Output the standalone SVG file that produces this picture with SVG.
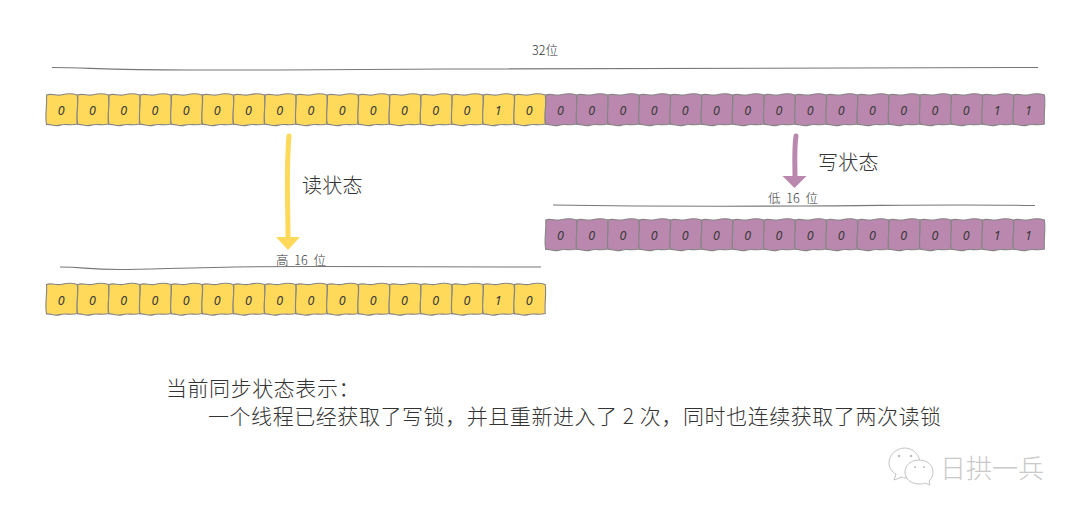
<svg xmlns="http://www.w3.org/2000/svg" width="1080" height="516" viewBox="0 0 1080 516">
<style>
text{font-family:"Noto Sans CJK SC","Noto Sans",sans-serif;fill:#333;font-weight:300}
.d{font-family:"Noto Sans","Liberation Sans",sans-serif;font-size:12.500px;font-style:italic;font-weight:400;fill:#3a3a3a;text-anchor:middle}
.y{fill:#FFD95A}.p{fill:#BA88AE}
.ln{fill:none;stroke:#777;stroke-width:1.100}
.lab{font-size:12.500px;text-anchor:middle;word-spacing:3px}
.big{font-size:20px;letter-spacing:.3px}
.note{font-size:21px;letter-spacing:.56px}
.wm{font-size:26px;fill:#c9c9c9}
.bub{fill:#fff;stroke:#c4c4c4;stroke-width:1}
.eye{fill:#bdbdbd}
</style>
<defs>
<path id="c" stroke="#858585" stroke-width="1.100" d="M0.500 0.500C6 -1.500 10 1.800 16 0.300S26 -1.200 31.200 0.500C32.600 8 30.400 20 31.200 29.500C25 31.500 20 28.800 14 30.600S5 29.200 0.500 30C-1.400 20 1.400 10 0.500 0.500Z"/>
</defs>
<g id="row-top">
<g transform="translate(46,94.500)"><use href="#c" class="y"/><text class="d" x="15.300" y="20.800">0</text></g>
<g transform="translate(77.200,94.500)"><use href="#c" class="y"/><text class="d" x="15.300" y="20.800">0</text></g>
<g transform="translate(108.400,94.500)"><use href="#c" class="y"/><text class="d" x="15.300" y="20.800">0</text></g>
<g transform="translate(139.600,94.500)"><use href="#c" class="y"/><text class="d" x="15.300" y="20.800">0</text></g>
<g transform="translate(170.800,94.500)"><use href="#c" class="y"/><text class="d" x="15.300" y="20.800">0</text></g>
<g transform="translate(202,94.500)"><use href="#c" class="y"/><text class="d" x="15.300" y="20.800">0</text></g>
<g transform="translate(233.200,94.500)"><use href="#c" class="y"/><text class="d" x="15.300" y="20.800">0</text></g>
<g transform="translate(264.400,94.500)"><use href="#c" class="y"/><text class="d" x="15.300" y="20.800">0</text></g>
<g transform="translate(295.600,94.500)"><use href="#c" class="y"/><text class="d" x="15.300" y="20.800">0</text></g>
<g transform="translate(326.800,94.500)"><use href="#c" class="y"/><text class="d" x="15.300" y="20.800">0</text></g>
<g transform="translate(358,94.500)"><use href="#c" class="y"/><text class="d" x="15.300" y="20.800">0</text></g>
<g transform="translate(389.200,94.500)"><use href="#c" class="y"/><text class="d" x="15.300" y="20.800">0</text></g>
<g transform="translate(420.400,94.500)"><use href="#c" class="y"/><text class="d" x="15.300" y="20.800">0</text></g>
<g transform="translate(451.600,94.500)"><use href="#c" class="y"/><text class="d" x="15.300" y="20.800">0</text></g>
<g transform="translate(482.800,94.500)"><use href="#c" class="y"/><text class="d" x="15.300" y="20.800">1</text></g>
<g transform="translate(514,94.500)"><use href="#c" class="y"/><text class="d" x="15.300" y="20.800">0</text></g>
<g transform="translate(545.200,94.500)"><use href="#c" class="p"/><text class="d" x="15.300" y="20.800">0</text></g>
<g transform="translate(576.400,94.500)"><use href="#c" class="p"/><text class="d" x="15.300" y="20.800">0</text></g>
<g transform="translate(607.600,94.500)"><use href="#c" class="p"/><text class="d" x="15.300" y="20.800">0</text></g>
<g transform="translate(638.800,94.500)"><use href="#c" class="p"/><text class="d" x="15.300" y="20.800">0</text></g>
<g transform="translate(670,94.500)"><use href="#c" class="p"/><text class="d" x="15.300" y="20.800">0</text></g>
<g transform="translate(701.200,94.500)"><use href="#c" class="p"/><text class="d" x="15.300" y="20.800">0</text></g>
<g transform="translate(732.400,94.500)"><use href="#c" class="p"/><text class="d" x="15.300" y="20.800">0</text></g>
<g transform="translate(763.600,94.500)"><use href="#c" class="p"/><text class="d" x="15.300" y="20.800">0</text></g>
<g transform="translate(794.800,94.500)"><use href="#c" class="p"/><text class="d" x="15.300" y="20.800">0</text></g>
<g transform="translate(826,94.500)"><use href="#c" class="p"/><text class="d" x="15.300" y="20.800">0</text></g>
<g transform="translate(857.200,94.500)"><use href="#c" class="p"/><text class="d" x="15.300" y="20.800">0</text></g>
<g transform="translate(888.400,94.500)"><use href="#c" class="p"/><text class="d" x="15.300" y="20.800">0</text></g>
<g transform="translate(919.600,94.500)"><use href="#c" class="p"/><text class="d" x="15.300" y="20.800">0</text></g>
<g transform="translate(950.800,94.500)"><use href="#c" class="p"/><text class="d" x="15.300" y="20.800">0</text></g>
<g transform="translate(982,94.500)"><use href="#c" class="p"/><text class="d" x="15.300" y="20.800">1</text></g>
<g transform="translate(1013.200,94.500)"><use href="#c" class="p"/><text class="d" x="15.300" y="20.800">1</text></g>
</g>
<g id="row-high">
<g transform="translate(46,284)"><use href="#c" class="y"/><text class="d" x="15.300" y="20.800">0</text></g>
<g transform="translate(77.200,284)"><use href="#c" class="y"/><text class="d" x="15.300" y="20.800">0</text></g>
<g transform="translate(108.400,284)"><use href="#c" class="y"/><text class="d" x="15.300" y="20.800">0</text></g>
<g transform="translate(139.600,284)"><use href="#c" class="y"/><text class="d" x="15.300" y="20.800">0</text></g>
<g transform="translate(170.800,284)"><use href="#c" class="y"/><text class="d" x="15.300" y="20.800">0</text></g>
<g transform="translate(202,284)"><use href="#c" class="y"/><text class="d" x="15.300" y="20.800">0</text></g>
<g transform="translate(233.200,284)"><use href="#c" class="y"/><text class="d" x="15.300" y="20.800">0</text></g>
<g transform="translate(264.400,284)"><use href="#c" class="y"/><text class="d" x="15.300" y="20.800">0</text></g>
<g transform="translate(295.600,284)"><use href="#c" class="y"/><text class="d" x="15.300" y="20.800">0</text></g>
<g transform="translate(326.800,284)"><use href="#c" class="y"/><text class="d" x="15.300" y="20.800">0</text></g>
<g transform="translate(358,284)"><use href="#c" class="y"/><text class="d" x="15.300" y="20.800">0</text></g>
<g transform="translate(389.200,284)"><use href="#c" class="y"/><text class="d" x="15.300" y="20.800">0</text></g>
<g transform="translate(420.400,284)"><use href="#c" class="y"/><text class="d" x="15.300" y="20.800">0</text></g>
<g transform="translate(451.600,284)"><use href="#c" class="y"/><text class="d" x="15.300" y="20.800">0</text></g>
<g transform="translate(482.800,284)"><use href="#c" class="y"/><text class="d" x="15.300" y="20.800">1</text></g>
<g transform="translate(514,284)"><use href="#c" class="y"/><text class="d" x="15.300" y="20.800">0</text></g>
</g>
<g id="row-low">
<g transform="translate(545.200,219.500)"><use href="#c" class="p"/><text class="d" x="15.300" y="20.800">0</text></g>
<g transform="translate(576.400,219.500)"><use href="#c" class="p"/><text class="d" x="15.300" y="20.800">0</text></g>
<g transform="translate(607.600,219.500)"><use href="#c" class="p"/><text class="d" x="15.300" y="20.800">0</text></g>
<g transform="translate(638.800,219.500)"><use href="#c" class="p"/><text class="d" x="15.300" y="20.800">0</text></g>
<g transform="translate(670,219.500)"><use href="#c" class="p"/><text class="d" x="15.300" y="20.800">0</text></g>
<g transform="translate(701.200,219.500)"><use href="#c" class="p"/><text class="d" x="15.300" y="20.800">0</text></g>
<g transform="translate(732.400,219.500)"><use href="#c" class="p"/><text class="d" x="15.300" y="20.800">0</text></g>
<g transform="translate(763.600,219.500)"><use href="#c" class="p"/><text class="d" x="15.300" y="20.800">0</text></g>
<g transform="translate(794.800,219.500)"><use href="#c" class="p"/><text class="d" x="15.300" y="20.800">0</text></g>
<g transform="translate(826,219.500)"><use href="#c" class="p"/><text class="d" x="15.300" y="20.800">0</text></g>
<g transform="translate(857.200,219.500)"><use href="#c" class="p"/><text class="d" x="15.300" y="20.800">0</text></g>
<g transform="translate(888.400,219.500)"><use href="#c" class="p"/><text class="d" x="15.300" y="20.800">0</text></g>
<g transform="translate(919.600,219.500)"><use href="#c" class="p"/><text class="d" x="15.300" y="20.800">0</text></g>
<g transform="translate(950.800,219.500)"><use href="#c" class="p"/><text class="d" x="15.300" y="20.800">0</text></g>
<g transform="translate(982,219.500)"><use href="#c" class="p"/><text class="d" x="15.300" y="20.800">1</text></g>
<g transform="translate(1013.200,219.500)"><use href="#c" class="p"/><text class="d" x="15.300" y="20.800">1</text></g>
</g>
<g id="connectors">
<path d="M289 136C286 170 288 205 288 238" fill="none" stroke="#FFD95A" stroke-width="5" stroke-linecap="round"/>
<polygon points="276,237 300,237 288,250" fill="#FFD95A"/>
<path d="M796 136C794 150 795 165 795 177" fill="none" stroke="#BA88AE" stroke-width="5" stroke-linecap="round"/>
<polygon points="782.500,176 806.500,176 794.500,188" fill="#BA88AE"/>
</g>
<g id="brackets">
<path class="ln" d="M52 67.500C90 67.500 100 70 190 70S330 70 450 69S800 67.500 1038 67.500"/>
<path class="ln" d="M553 205C650 206.500 700 206.500 800 206S950 204 1035 205.500"/>
<path class="ln" d="M60 267C85 267 85 269.500 120 269.500S220 266 320 266.500S480 267 541 267"/>
</g>
<g id="labels">
<text class="lab" x="545" y="55">32位</text>
<text class="lab" x="793" y="203">低 16 位</text>
<text class="lab" x="301" y="265">高 16 位</text>
<text class="big" x="302" y="193">读状态</text>
<text class="big" x="818" y="170">写状态</text>
</g>
<g id="note">
<text class="note" x="166" y="396">当前同步状态表示：</text>
<text class="note" x="208" y="424">一个线程已经获取了写锁，并且重新进入了 2 次，同时也连续获取了两次读锁</text>
</g>
<g id="watermark">
<path class="bub" d="M905 448C896 448 889 455 889 463C889 468 892 472 896 474L894 480L902 477C904 478 906 478 908 478C916 478 920 470 920 463C920 455 913 448 905 448Z"/>
<circle class="eye" cx="899" cy="456" r="1.300"/><circle class="eye" cx="911" cy="456" r="1.300"/>
<path class="bub" d="M919 460C911 460 905 465 905 472C905 479 911 484 919 484C921 484 923 484 925 483L930 485L929 481C932 478 933 475 933 472C933 465 927 460 919 460Z"/>
<circle class="eye" cx="915" cy="467" r="1"/><circle class="eye" cx="924" cy="467" r="1"/>
<text class="wm" x="940" y="478">日拱一兵</text>
</g>
</svg>
